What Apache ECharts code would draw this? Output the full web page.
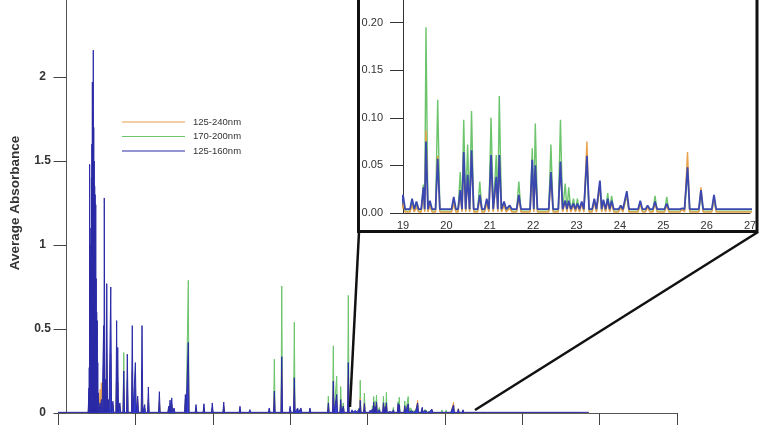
<!DOCTYPE html>
<html>
<head>
<meta charset="utf-8">
<title>Average Absorbance</title>
<script src="https://cdn.jsdelivr.net/npm/echarts@6/dist/echarts.min.js"></script>
<style>
	body { margin: 0; padding: 0; background: #fff; }
	#chart { width: 768px; height: 432px; }
</style>
</head>
<body>
<div id="chart"></div>
<script>
	// legend names
	var seriesNames = ['125-240nm', '170-200nm', '125-160nm'];

	// peak retention times (min)
	var peakTime = [
		2.00, 2.02, 2.045, 2.07, 2.10, 2.13, 2.16, 2.19, 2.22, 2.25,
		2.28, 2.31, 2.34, 2.37, 2.40, 2.44, 2.47, 2.50, 2.54, 2.57,
		2.60, 2.72, 2.80, 2.95, 2.99, 3.08, 3.15,
		3.25, 3.41, 3.55, 3.79, 3.86, 4.00, 4.25, 4.48, 4.80, 5.00,
		5.15, 5.43, 5.60, 5.84, 6.55, 7.15, 7.24, 7.35, 7.50, 8.23,
		8.42, 8.92, 9.43, 9.97, 10.71, 11.76, 12.40, 13.00, 13.65, 13.98,
		14.46, 15.00, 15.27, 15.49, 15.70, 16.28, 16.90, 17.47, 17.79, 18.01,
		18.27, 18.44, 18.76, 19.00, 19.21, 19.31, 19.47, 19.53, 19.62, 19.80,
		20.17, 20.32, 20.40, 20.49, 20.58, 20.77, 20.93, 21.03, 21.15, 21.22,
		21.33, 21.46, 21.67, 21.98, 22.05, 22.41, 22.63, 22.74, 22.82, 22.93,
		23.02, 23.12, 23.24, 23.41, 23.54, 23.62, 23.72, 23.81, 24.02, 24.16,
		24.47, 24.64, 24.81, 25.08, 25.44, 25.56, 25.87, 26.17, 27.80, 29.00,
		30.50, 32.00, 33.50
	];
	// peak heights, 125-160nm
	var absBlue = [
		0.15, 0.27, 1.48, 1.00, 0.90, 1.10, 1.40, 1.60, 1.97, 1.80,
		2.16, 1.70, 1.50, 1.35, 1.30, 1.24, 0.80, 0.60, 0.55, 0.30,
		0.12, 0.06, 0.08, 0.52, 1.28, 0.20, 0.77,
		0.08, 0.75, 0.07, 0.55, 0.39, 0.06, 0.25, 0.35, 0.52, 0.30,
		0.10, 0.52, 0.05, 0.155, 0.127, 0.04, 0.077, 0.09, 0.03, 0.11,
		0.42, 0.05, 0.055, 0.06, 0.065, 0.04, 0.02, 0.015, 0.03, 0.13,
		0.335, 0.04, 0.21, 0.03, 0.03, 0.03, 0.015, 0.06, 0.19, 0.11,
		0.08, 0.04, 0.30, 0.019, 0.015, 0.012, 0.027, 0.075, 0.013, 0.057,
		0.017, 0.024, 0.064, 0.040, 0.066, 0.019, 0.015, 0.061, 0.038, 0.061,
		0.012, 0.008, 0.019, 0.056, 0.050, 0.043, 0.054, 0.013, 0.013, 0.010,
		0.010, 0.012, 0.060, 0.015, 0.034, 0.014, 0.015, 0.013, 0.008, 0.023,
		0.013, 0.008, 0.012, 0.010, 0.005, 0.048, 0.024, 0.019, 0.006, 0.005,
		0.004, 0.004, 0.003
	];
	// peak heights, 170-200nm
	var absGreen = [
		0.10, 0.12, 0.30, 0.15, 0.12, 0.15, 0.20, 0.25, 0.35, 0.25,
		0.40, 0.25, 0.20, 0.20, 0.20, 0.20, 0.12, 0.10, 0.10, 0.08,
		0.05, 0.04, 0.05, 0.20, 0.45, 0.08, 0.30,
		0.05, 0.30, 0.04, 0.25, 0.18, 0.03, 0.36, 0.20, 0.25, 0.15,
		0.05, 0.25, 0.03, 0.08, 0.06, 0.02, 0.04, 0.05, 0.02, 0.08,
		0.79, 0.03, 0.03, 0.03, 0.03, 0.02, 0.01, 0.01, 0.02, 0.32,
		0.756, 0.03, 0.54, 0.02, 0.02, 0.02, 0.01, 0.10, 0.40, 0.22,
		0.157, 0.06, 0.70, 0.012, 0.010, 0.008, 0.030, 0.195, 0.010, 0.119,
		0.012, 0.043, 0.098, 0.072, 0.107, 0.033, 0.012, 0.100, 0.061, 0.123,
		0.010, 0.006, 0.033, 0.068, 0.094, 0.072, 0.098, 0.031, 0.027, 0.015,
		0.015, 0.010, 0.055, 0.012, 0.030, 0.012, 0.021, 0.018, 0.006, 0.018,
		0.010, 0.006, 0.018, 0.017, 0.004, 0.045, 0.020, 0.015, 0.004, 0.004,
		0.003, 0.003, 0.003
	];
	// peak heights, 125-240nm
	var absOrange = [
		0.06, 0.10, 0.40, 0.30, 0.28, 0.30, 0.40, 0.45, 0.60, 0.50,
		0.70, 0.50, 0.45, 0.40, 0.40, 0.40, 0.30, 0.20, 0.18, 0.12,
		0.08, 0.14, 0.18, 0.22, 0.50, 0.15, 0.35,
		0.06, 0.35, 0.05, 0.25, 0.18, 0.04, 0.15, 0.15, 0.25, 0.15,
		0.08, 0.25, 0.03, 0.08, 0.07, 0.02, 0.04, 0.05, 0.02, 0.06,
		0.30, 0.03, 0.03, 0.03, 0.04, 0.02, 0.01, 0.01, 0.02, 0.10,
		0.25, 0.02, 0.15, 0.02, 0.02, 0.02, 0.01, 0.04, 0.14, 0.08,
		0.06, 0.03, 0.22, 0.010, 0.008, 0.006, 0.020, 0.087, 0.008, 0.060,
		0.010, 0.020, 0.055, 0.035, 0.060, 0.015, 0.010, 0.055, 0.035, 0.055,
		0.008, 0.005, 0.015, 0.045, 0.045, 0.038, 0.050, 0.012, 0.012, 0.008,
		0.008, 0.010, 0.075, 0.012, 0.028, 0.012, 0.012, 0.010, 0.006, 0.020,
		0.010, 0.006, 0.010, 0.008, 0.004, 0.064, 0.027, 0.017, 0.004, 0.003,
		0.003, 0.003, 0.002
	];
	// baseline levels
	var baseBlue = 0.004, baseGreen = 0.002, baseOrange = 0.001;
	var runStart = 0, runEnd = 34.3;
	var halfWidth = 0.05;

	var colOrange = '#e8a04a';
	var colGreen = '#6cc46c';
	var colBlue = '#2b2ba6';

	// peak table -> line vertices
	function buildLine(values, base) {
		var pts = [[runStart, base]];
		for (var i = 0; i < peakTime.length; i++) {
			var t = peakTime[i];
			var left = t - halfWidth, right = t + halfWidth;
			if (i > 0) left = Math.max(left, (peakTime[i - 1] + t) / 2);
			if (i < peakTime.length - 1) right = Math.min(right, (t + peakTime[i + 1]) / 2);
			pts.push([left, base], [t, values[i]], [right, base]);
		}
		pts.push([runEnd, base]);
		return pts;
	}
	var lineOrange = buildLine(absOrange, baseOrange);
	var lineGreen = buildLine(absGreen, baseGreen);
	var lineBlue = buildLine(absBlue, baseBlue);

	function makeSeries(name, data, color, idx, width, z, area) {
		var s = {
			name: name,
			type: 'line',
			xAxisIndex: idx,
			yAxisIndex: idx,
			data: data,
			color: color,
			showSymbol: false,
			symbol: 'none',
			animation: false,
			z: z,
			lineStyle: { width: width, color: color }
		};
		if (area) s.areaStyle = area;
		return s;
	}

	var chart = echarts.init(document.getElementById('chart'));
	var option = {
		backgroundColor: '#fff',
		animation: false,
		textStyle: { fontFamily: 'Liberation Sans, Arial, sans-serif' },
		legend: {
			data: seriesNames,
			orient: 'vertical',
			left: 117,
			top: 111,
			icon: 'rect',
			itemWidth: 63,
			itemHeight: 1,
			itemGap: 2.5,
			textStyle: { fontSize: 9.5, color: '#333', lineHeight: 12, padding: [0, 0, 0, 3] }
		},
		grid: [
			{ left: 58, right: 91, top: -7, bottom: 19, outerBoundsMode: 'none' },
			{ left: 403, right: 18, top: -25, bottom: 219, outerBoundsMode: 'none' }
		],
		xAxis: [
			{
				type: 'value', gridIndex: 0, min: 0, max: 40, interval: 5,
				axisLine: { lineStyle: { color: '#555', width: 1 } },
				axisTick: { length: 12, lineStyle: { color: '#444' } },
				axisLabel: { show: false },
				splitLine: { show: false }
			},
			{
				type: 'value', gridIndex: 1, min: 19, max: 27, interval: 1,
				axisLine: { lineStyle: { color: '#333', width: 1 } },
				axisTick: { show: false },
				axisLabel: { fontSize: 11, color: '#333', margin: 7 },
				splitLine: { show: false }
			}
		],
		yAxis: [
			{
				type: 'value', gridIndex: 0, min: 0, max: 2.5, interval: 0.5,
				offset: -8.5,
				axisLine: { show: true, lineStyle: { color: '#555', width: 1 } },
				axisTick: { show: true, length: 13, lineStyle: { color: '#444' } },
				axisLabel: { fontSize: 12, fontWeight: 'bold', color: '#333', margin: 24, align: 'center' },
				splitLine: { show: false },
				name: 'Average Absorbance',
				nameLocation: 'middle',
				nameGap: 44,
				nameTextStyle: { fontSize: 13.5, fontWeight: 'bold', color: '#333' }
			},
			{
				type: 'value', gridIndex: 1, min: 0, max: 0.25, interval: 0.05,
				axisLine: { show: true, lineStyle: { color: '#333', width: 1 } },
				axisTick: { show: true, length: 13, lineStyle: { color: '#333' } },
				axisLabel: {
					fontSize: 11, color: '#333', margin: 20,
					formatter: function (v) { return v.toFixed(2); }
				},
				splitLine: { show: false }
			}
		],
		graphic: [
			{
				type: 'rect', z: -1,
				shape: { x: 358.5, y: -10, width: 398.5, height: 241.5 },
				style: { fill: '#fff', stroke: '#111', lineWidth: 3 }
			},
			{
				type: 'line', z: 100,
				shape: { x1: 359, y1: 232, x2: 350, y2: 407 },
				style: { stroke: '#111', lineWidth: 2.5 }
			},
			{
				type: 'line', z: 100,
				shape: { x1: 758, y1: 232, x2: 475, y2: 410 },
				style: { stroke: '#111', lineWidth: 2.5 }
			}
		],
		series: [
			makeSeries(seriesNames[1], lineGreen, colGreen, 0, 1, 2, { color: colGreen, opacity: 0.6 }),
			makeSeries(seriesNames[0], lineOrange, colOrange, 0, 1, 3, { color: '#c070c0', opacity: 0.5 }),
			makeSeries(seriesNames[2], lineBlue, colBlue, 0, 1, 4, { color: '#2233dd', opacity: 0.9 }),
			makeSeries(seriesNames[1], lineGreen, colGreen, 1, 1.4, 2),
			makeSeries(seriesNames[0], lineOrange, colOrange, 1, 1.4, 3),
			makeSeries(seriesNames[2], lineBlue, '#3a48b0', 1, 1.8, 4)
		]
	};
	chart.setOption(option);
</script>
</body>
</html>
